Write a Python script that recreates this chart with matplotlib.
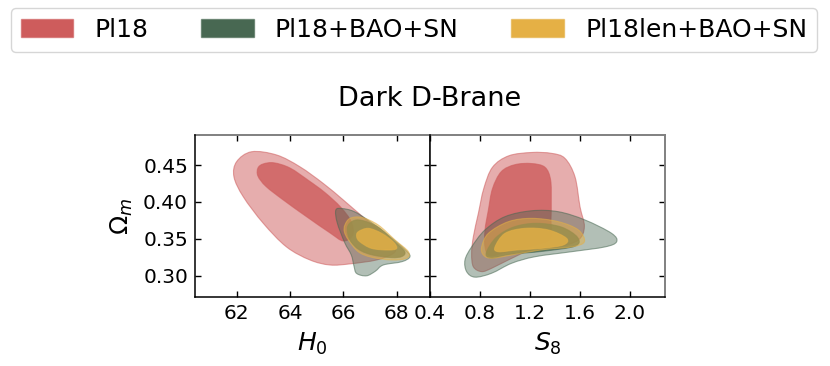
import numpy as np
import matplotlib
matplotlib.use("Agg")
import matplotlib.pyplot as plt
from matplotlib.path import Path
from matplotlib.patches import PathPatch, Patch
from matplotlib.colors import to_rgba

# ---------------- data (credible-region outlines) ----------------
labels = ["Pl18", "Pl18+BAO+SN", "Pl18len+BAO+SN"]
colors = ["#CE5C5C", "#486852", "#E5B045"]

h0_ticks = [62, 64, 66, 68]
s8_ticks = [0.4, 0.8, 1.2, 1.6, 2.0]
om_ticks = [0.30, 0.35, 0.40, 0.45]

# (H0, Omega_m) outlines
pl18_h0_95 = [(62.56, 0.468), (63.5, 0.4636), (64.37, 0.4477), (65.25, 0.425), (66.0, 0.4026),
              (66.87, 0.3755), (67.62, 0.3529), (67.94, 0.339), (67.87, 0.330), (67.25, 0.3213),
              (66.25, 0.316), (65.5, 0.3145), (64.75, 0.3213), (63.87, 0.339), (63.0, 0.371),
              (62.25, 0.407), (61.9, 0.434), (62.0, 0.4545)]
pl18_h0_68 = [(63.0, 0.4515), (63.4, 0.453), (64.0, 0.446), (64.7, 0.429), (65.3, 0.413),
              (65.9, 0.393), (66.3, 0.373), (66.35, 0.355), (66.0, 0.347), (65.5, 0.358),
              (64.62, 0.380), (63.75, 0.4026), (63.1, 0.421), (62.8, 0.435), (62.8, 0.446)]
bao_h0_95 = [(65.72, 0.389), (65.95, 0.391), (66.4, 0.387), (67.0, 0.3735), (67.75, 0.353),
             (68.3, 0.336), (68.5, 0.326), (68.2, 0.319), (67.5, 0.3145), (67.2, 0.306),
             (66.87, 0.2998), (66.5, 0.303), (66.4, 0.313), (66.3, 0.328), (66.05, 0.345),
             (65.77, 0.372)]
bao_h0_68 = [(66.15, 0.365), (66.35, 0.374), (66.7, 0.375), (67.3, 0.366), (67.9, 0.347),
             (68.3, 0.333), (68.2, 0.326), (67.8, 0.3245), (67.1, 0.328), (66.6, 0.335),
             (66.25, 0.348)]
len_h0_95 = [(66.06, 0.3687), (66.25, 0.3777), (66.69, 0.379), (67.31, 0.3687), (67.94, 0.3484),
             (68.44, 0.3325), (68.37, 0.3236), (67.81, 0.3213), (67.06, 0.325), (66.56, 0.3325),
             (66.19, 0.3484), (66.04, 0.3596)]
len_h0_68 = [(66.56, 0.3596), (66.94, 0.3642), (67.44, 0.3574), (67.87, 0.346), (68.0, 0.337),
             (67.69, 0.3348), (67.06, 0.337), (66.62, 0.346), (66.5, 0.3529)]

# (S8, Omega_m) outlines
pl18_s8_95 = [(1.213, 0.467), (1.373, 0.4658), (1.48, 0.459), (1.56, 0.434), (1.60, 0.3935),
              (1.635, 0.3664), (1.587, 0.3484), (1.427, 0.339), (1.213, 0.335), (1.027, 0.3213),
              (0.893, 0.310), (0.813, 0.3055), (0.747, 0.312), (0.733, 0.330), (0.747, 0.353),
              (0.787, 0.3845), (0.83, 0.418), (0.90, 0.447), (1.03, 0.4625)]
pl18_s8_68 = [(1.08, 0.4505), (1.213, 0.452), (1.32, 0.447), (1.365, 0.4297), (1.37, 0.40),
              (1.368, 0.3755), (1.36, 0.350), (1.213, 0.340), (1.027, 0.333), (0.88, 0.327),
              (0.84, 0.339), (0.84, 0.362), (0.867, 0.389), (0.90, 0.418), (0.97, 0.441)]
bao_s8_95 = [(0.68, 0.3213), (0.733, 0.339), (0.84, 0.362), (1.0, 0.380), (1.213, 0.388),
             (1.427, 0.3867), (1.64, 0.3755), (1.853, 0.3574), (1.893, 0.346), (1.80, 0.339),
             (1.533, 0.3325), (1.24, 0.3257), (1.053, 0.3168), (0.893, 0.3033), (0.76, 0.298),
             (0.693, 0.3055)]
bao_s8_68 = [(0.85, 0.331), (0.93, 0.352), (1.07, 0.366), (1.25, 0.371), (1.45, 0.366),
             (1.58, 0.352), (1.56, 0.340), (1.30, 0.333), (1.05, 0.329), (0.89, 0.324)]
len_s8_95 = [(0.813, 0.339), (0.867, 0.3574), (1.027, 0.3732), (1.213, 0.3777), (1.427, 0.3732),
             (1.587, 0.362), (1.635, 0.346), (1.533, 0.339), (1.293, 0.335), (1.053, 0.328),
             (0.893, 0.3236), (0.827, 0.328)]
len_s8_68 = [(0.92, 0.339), (1.0, 0.3574), (1.16, 0.3642), (1.347, 0.362), (1.493, 0.3506),
             (1.467, 0.3416), (1.293, 0.337), (1.107, 0.335), (0.947, 0.3325)]

h0_sets = [(pl18_h0_95, pl18_h0_68), (bao_h0_95, bao_h0_68), (len_h0_95, len_h0_68)]
s8_sets = [(pl18_s8_95, pl18_s8_68), (bao_s8_95, bao_s8_68), (len_s8_95, len_s8_68)]


def closed_smooth_path(pts):
    """Closed Catmull-Rom curve through the outline vertices, as cubic Bezier segments."""
    p = np.asarray(pts, dtype=float)
    n = len(p)
    verts = [p[0]]
    codes = [Path.MOVETO]
    for i in range(n):
        p0, p1, p2, p3 = p[i - 1], p[i], p[(i + 1) % n], p[(i + 2) % n]
        verts += [p1 + (p2 - p0) / 6.0, p2 - (p3 - p1) / 6.0, p2]
        codes += [Path.CURVE4] * 3
    verts.append(p[0])
    codes.append(Path.CLOSEPOLY)
    return Path(np.array(verts), codes)


def draw_regions(ax, sets):
    for (outer, inner), c in zip(sets, colors):
        a_out = 0.42 if c == colors[1] else 0.5
        ax.add_patch(PathPatch(closed_smooth_path(outer), facecolor=to_rgba(c, a_out),
                               edgecolor=to_rgba(c, 0.55), lw=0.8, zorder=2))
        ax.add_patch(PathPatch(closed_smooth_path(inner), facecolor=to_rgba(c, 0.8),
                               edgecolor=to_rgba(c, 0.6), lw=0.8, zorder=2))


fig = plt.figure(figsize=(8.3, 3.66), dpi=100)
W, H = 830.0, 366.0
ax1 = fig.add_axes([195 / W, 1 - 297 / H, 235 / W, 162 / H])
ax2 = fig.add_axes([430 / W, 1 - 297 / H, 235 / W, 162 / H])

draw_regions(ax1, h0_sets)
draw_regions(ax2, s8_sets)

ylim = (0.2711, 0.4907)
ax1.set_xlim(60.44, 69.25)
ax2.set_xlim(0.4, 2.28)
for ax in (ax1, ax2):
    ax.set_ylim(*ylim)
    ax.set_yticks(om_ticks)
    ax.tick_params(direction="in", top=True, right=True, length=4, width=1,
                   labelsize=14.5, pad=5)
    for s in ("top", "right"):
        ax.spines[s].set_color("0.5")
        ax.spines[s].set_linewidth(1.4)
    for s in ("left", "bottom"):
        ax.spines[s].set_color("black")
        ax.spines[s].set_linewidth(1.1)
        ax.spines[s].set_zorder(5)

ax1.set_xticks(h0_ticks)
ax1.set_xticklabels([str(t) for t in h0_ticks])
ax1.set_yticklabels(["%.2f" % t for t in om_ticks])
ax2.set_xticks(s8_ticks)
ax2.set_xticklabels(["%.1f" % t for t in s8_ticks])
ax2.set_yticklabels([])
ax2.spines["left"].set_zorder(6)

ax1.set_xlabel(r"$H_0$", fontsize=18, labelpad=6)
ax2.set_xlabel(r"$S_8$", fontsize=18, labelpad=6)
ax1.set_ylabel(r"$\Omega_m$", fontsize=18, labelpad=6)

fig.text(430 / W, 1 - 99 / H, "Dark D-Brane", ha="center", va="center", fontsize=19.5)

handles = [Patch(facecolor=c, edgecolor=to_rgba(c, 0.6)) for c in colors]
fig.legend(handles, labels, loc="upper center", bbox_to_anchor=(414 / W, 1 - 8 / H),
           ncol=3, fontsize=18, handlelength=2.1, handleheight=0.75, handletextpad=0.85,
           columnspacing=2.1, borderpad=0.4, borderaxespad=0, frameon=True,
           edgecolor="0.8", fancybox=True)

fig.savefig("out.png", dpi=100)
